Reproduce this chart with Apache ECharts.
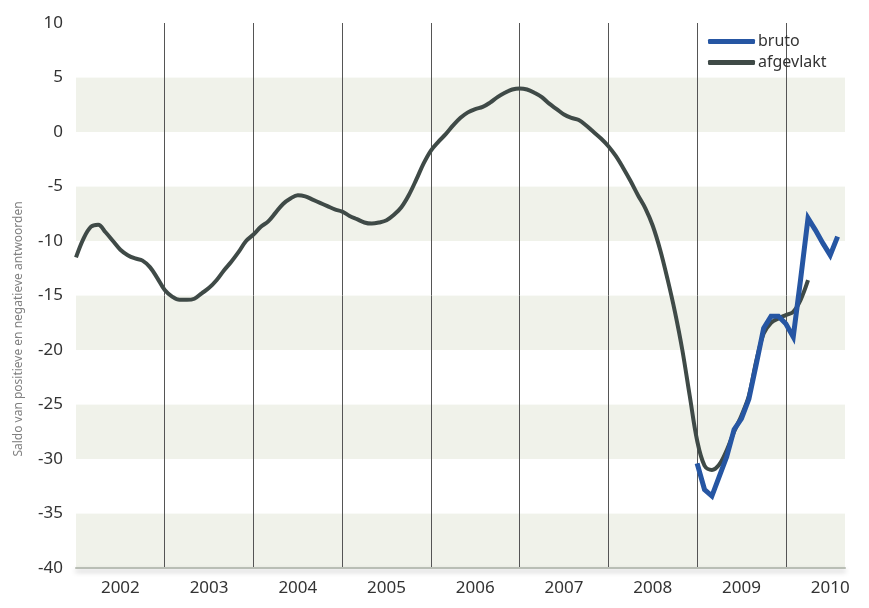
<!DOCTYPE html>
<html>
<head>
<meta charset="utf-8">
<title>Saldo bruto / afgevlakt</title>
<script src="https://cdn.jsdelivr.net/npm/echarts@6/dist/echarts.min.js"></script>
<style>
  html, body { margin: 0; padding: 0; background: #ffffff; }
  #chart { width: 869px; height: 608px; }
</style>
</head>
<body>
<div id="chart"></div>
<script>
// jaren op de x-as (maandelijkse punten, jan 2002 t/m sep 2010)
const years = ['2002', '2003', '2004', '2005', '2006', '2007', '2008', '2009', '2010'];
const lastYearMonths = 9;

// y-as ticks
const yTicks = [-40, -35, -30, -25, -20, -15, -10, -5, 0, 5, 10];

// afgevlakt: jan 2002 t/m apr 2010
const afgevlakt = [
  -11.5, -9.8, -8.7, -8.5, -9.2, -10.0, -10.8, -11.3, -11.6, -11.8, -12.4, -13.4,
  -14.5, -15.1, -15.4, -15.4, -15.3, -14.8, -14.3, -13.6, -12.7, -11.9, -11.0, -10.0,
  -9.4, -8.7, -8.2, -7.4, -6.6, -6.1, -5.8, -5.9, -6.2, -6.5, -6.8, -7.1,
  -7.3, -7.7, -8.0, -8.3, -8.4, -8.3, -8.1, -7.6, -6.9, -5.8, -4.4, -2.9,
  -1.7, -0.9, -0.2, 0.6, 1.3, 1.8, 2.1, 2.3, 2.7, 3.2, 3.6, 3.9,
  4.0, 3.9, 3.6, 3.2, 2.6, 2.1, 1.6, 1.3, 1.1, 0.6, 0.0, -0.6,
  -1.3, -2.2, -3.3, -4.5, -5.8, -7.0, -8.6, -10.8, -13.5, -16.5, -20.0, -24.2,
  -28.3, -30.6, -31.0, -30.5, -29.2, -27.5, -26.0, -24.2, -21.0, -18.5, -17.5, -17.1,
  -16.8, -16.5, -15.4, -13.6
];

// bruto: jan 2009 t/m aug 2010
const brutoStart = '2009-01';
const bruto = [
  -30.4, -32.8, -33.4, -31.6, -29.8, -27.3, -26.3, -24.5, -21.3, -18.0, -16.9, -16.9,
  -17.6, -18.8, -13.5, -7.9, -9.0, -10.2, -11.3, -9.6
];

// maandcategorieën opbouwen
const months = [];
years.forEach(function(y, i) {
  const n = i === years.length - 1 ? lastYearMonths : 12;
  for (let m = 1; m <= n; m++) {
    months.push(y + '-' + (m < 10 ? '0' + m : m));
  }
});

const brutoSeries = months.map(function() { return null; });
const startIdx = months.indexOf(brutoStart);
bruto.forEach(function(v, i) { brutoSeries[startIdx + i] = v; });

const chart = echarts.init(document.getElementById('chart'));

const option = {
  animation: false,
  backgroundColor: '#ffffff',
  textStyle: { fontFamily: 'Noto Sans' },
  grid: {
    left: 76, right: 24, top: 23, bottom: 40,
    show: true,
    backgroundColor: '#fafbf8',
    borderWidth: 0
  },
  legend: {
    orient: 'vertical',
    left: 703,
    top: 28,
    itemWidth: 47,
    itemHeight: 5,
    itemGap: 4,
    textStyle: { fontSize: 16, color: '#333', lineHeight: 17, padding: [0, 0, 0, -2] },
    data: [
      { name: 'bruto', icon: 'roundRect' },
      { name: 'afgevlakt', icon: 'roundRect' }
    ]
  },
  graphic: [{
    type: 'text',
    x: 19,
    y: 329,
    rotation: Math.PI / 2,
    style: {
      text: 'Saldo van positieve en negatieve antwoorden',
      fontSize: 12,
      fontFamily: 'Noto Sans',
      fill: '#808080',
      align: 'center',
      verticalAlign: 'middle'
    }
  }],
  xAxis: {
    type: 'category',
    data: months,
    boundaryGap: false,
    axisTick: { show: false },
    axisLine: {
      onZero: false,
      lineStyle: {
        color: '#b9beb5', width: 2,
        shadowColor: 'rgba(0,0,0,0.25)', shadowBlur: 5, shadowOffsetY: 3
      }
    },
    axisLabel: {
      interval: function(index) { return index % 12 === 6; },
      formatter: function(v) { return v.slice(0, 4); },
      fontSize: 17,
      color: '#333',
      margin: 12
    },
    splitLine: {
      show: true,
      interval: function(index) { return index > 0 && index % 12 === 0; },
      lineStyle: { color: '#555', width: 1 }
    }
  },
  yAxis: {
    type: 'value',
    min: yTicks[0],
    max: yTicks[yTicks.length - 1],
    interval: 5,
    axisLine: { show: false },
    axisTick: { show: false },
    splitLine: { show: false },
    splitArea: {
      show: true,
      areaStyle: { color: ['#f0f2ea', 'rgba(255,255,255,0.9)'] }
    },
    axisLabel: { fontSize: 17, color: '#333', margin: 13 }
  },
  series: [
    {
      name: 'afgevlakt',
      type: 'line',
      data: afgevlakt,
      smooth: 0.35,
      symbol: 'none',
      z: 2,
      itemStyle: { color: '#3f4a47' },
      lineStyle: { color: '#3f4a47', width: 4 }
    },
    {
      name: 'bruto',
      type: 'line',
      data: brutoSeries,
      symbol: 'none',
      z: 3,
      itemStyle: { color: '#2656a3' },
      lineStyle: { color: '#2656a3', width: 5, join: 'miter' }
    }
  ]
};

chart.setOption(option);
</script>
</body>
</html>
